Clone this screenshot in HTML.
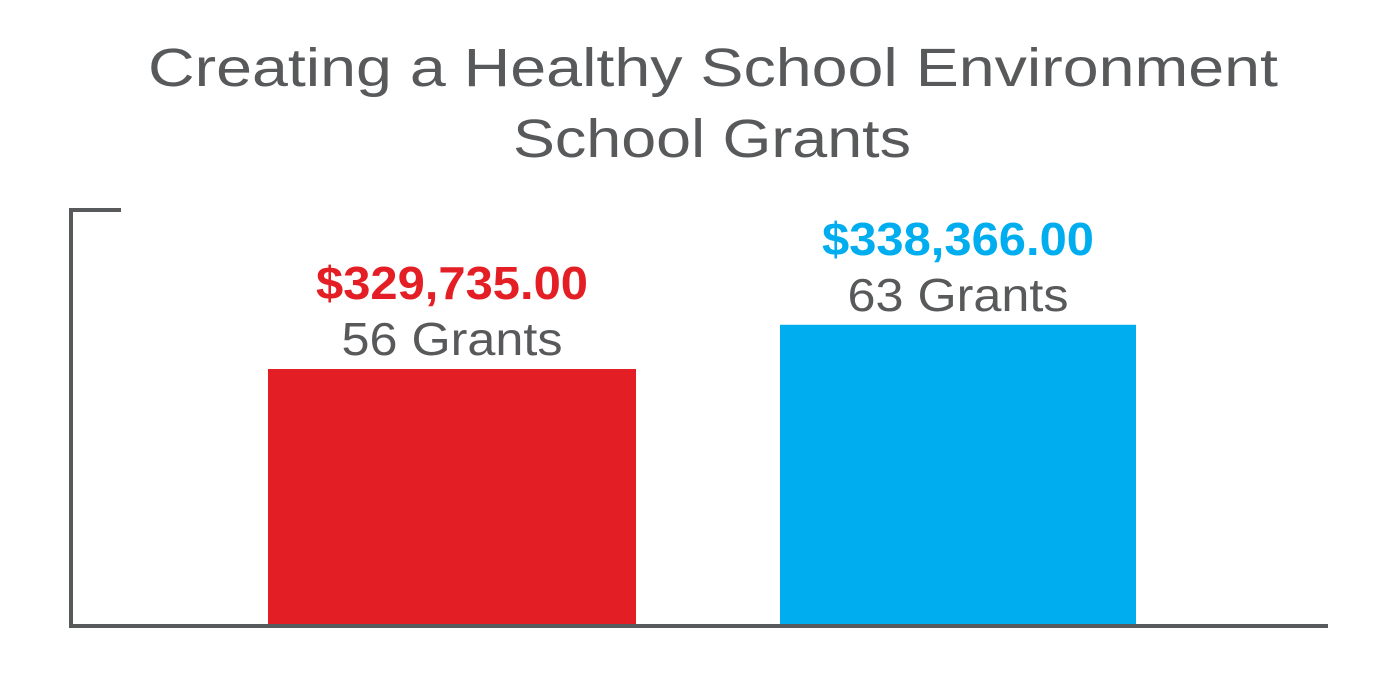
<!DOCTYPE html>
<html><head><meta charset="utf-8"><style>
html,body{margin:0;padding:0;background:#fff;width:1400px;height:700px;overflow:hidden}
svg{display:block;font-family:"Liberation Sans",sans-serif}
</style></head><body>
<svg id="chart" width="1400" height="700" viewBox="0 0 1400 700">
<text x="713" y="86" text-anchor="middle" font-size="54" fill="#58595b" textLength="1130" lengthAdjust="spacingAndGlyphs">Creating a Healthy School Environment</text>
<text x="712" y="157" text-anchor="middle" font-size="54" fill="#58595b" textLength="398" lengthAdjust="spacingAndGlyphs">School Grants</text>
<path d="M121 210 H71 V626 H1328" fill="none" stroke="#58595b" stroke-width="4"/>
<g id="bars"></g>
</svg>
<script>
const categories = ["Group A", "Group B"];
const amounts = [329735, 338366];
const grantCounts = [56, 63];
const amountLabels = ["$329,735.00", "$338,366.00"];
const colors = ["#e31e24", "#00aeef"];
const yMin = 280000, yMax = 360750;
const plotTop = 210, plotBottom = 624;
const ns = "http://www.w3.org/2000/svg";
function y(v){ return plotBottom - (v - yMin) / (yMax - yMin) * (plotBottom - plotTop); }
const slots = [[268,368],[780,356]];
function x(i){ return slots[i][0]; }
const g = document.getElementById("bars");
categories.forEach((c,i)=>{
  const top = y(amounts[i]);
  const r = document.createElementNS(ns,"rect");
  
  
  r.setAttribute("x", x(i)); r.setAttribute("y", top);
  r.setAttribute("width", slots[i][1]); r.setAttribute("height", plotBottom - top);
  r.setAttribute("fill", colors[i]);
  g.appendChild(r);
  const cx = x(i) + slots[i][1]/2;
  const t1 = document.createElementNS(ns,"text");
  
  
  t1.setAttribute("x", cx); t1.setAttribute("y", top - 70);
  t1.setAttribute("text-anchor","middle"); t1.setAttribute("font-size","46");
  t1.setAttribute("font-weight","bold"); t1.setAttribute("fill", colors[i]);
  t1.setAttribute("textLength","272"); t1.setAttribute("lengthAdjust","spacingAndGlyphs");
  t1.textContent = amountLabels[i];
  g.appendChild(t1);
  const t2 = document.createElementNS(ns,"text");
  
  
  t2.setAttribute("x", cx); t2.setAttribute("y", top - 14);
  t2.setAttribute("text-anchor","middle"); t2.setAttribute("font-size","46");
  t2.setAttribute("fill","#58595b");
  t2.setAttribute("textLength","221"); t2.setAttribute("lengthAdjust","spacingAndGlyphs");
  t2.textContent = grantCounts[i] + " Grants";
  g.appendChild(t2);
});
</script>
</body></html>
